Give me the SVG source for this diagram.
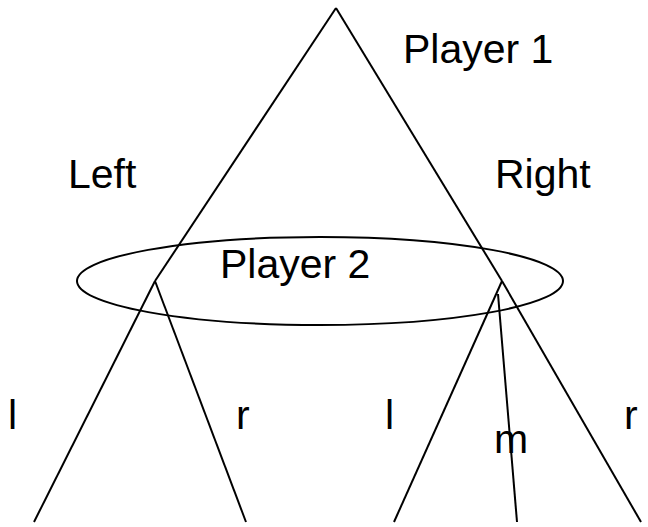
<svg xmlns="http://www.w3.org/2000/svg" width="648" height="527" viewBox="0 0 648 527">
<style>
.e{stroke:#000;stroke-width:2;fill:none}
text{font-family:"Liberation Sans","Open Sans",Arial,sans-serif;font-size:41px;fill:#000}
</style>
<rect width="648" height="527" fill="#fff"/>
<g id="connectors">
<line class="e" x1="336" y1="8" x2="155" y2="281"/>
<line class="e" x1="336" y1="8" x2="502" y2="281"/>
<line class="e" x1="155" y1="281" x2="34" y2="522"/>
<line class="e" x1="155" y1="281" x2="246" y2="522"/>
<line class="e" x1="502" y1="281" x2="394" y2="522"/>
<line class="e" x1="498" y1="294" x2="517" y2="522"/>
<line class="e" x1="502" y1="281" x2="641" y2="522"/>
</g>
<g id="player1"><text x="403" y="63">Player 1</text></g>
<g id="player2">
<ellipse class="e" cx="320" cy="281" rx="243" ry="44"/>
<text x="220" y="278">Player 2</text>
</g>
<g id="labels">
<text x="68" y="188">Left</text>
<text x="495" y="188">Right</text>
<text x="8" y="429">l</text>
<text x="236" y="429">r</text>
<text x="385" y="429">l</text>
<text x="494" y="453">m</text>
<text x="624" y="429">r</text>
</g>
</svg>
